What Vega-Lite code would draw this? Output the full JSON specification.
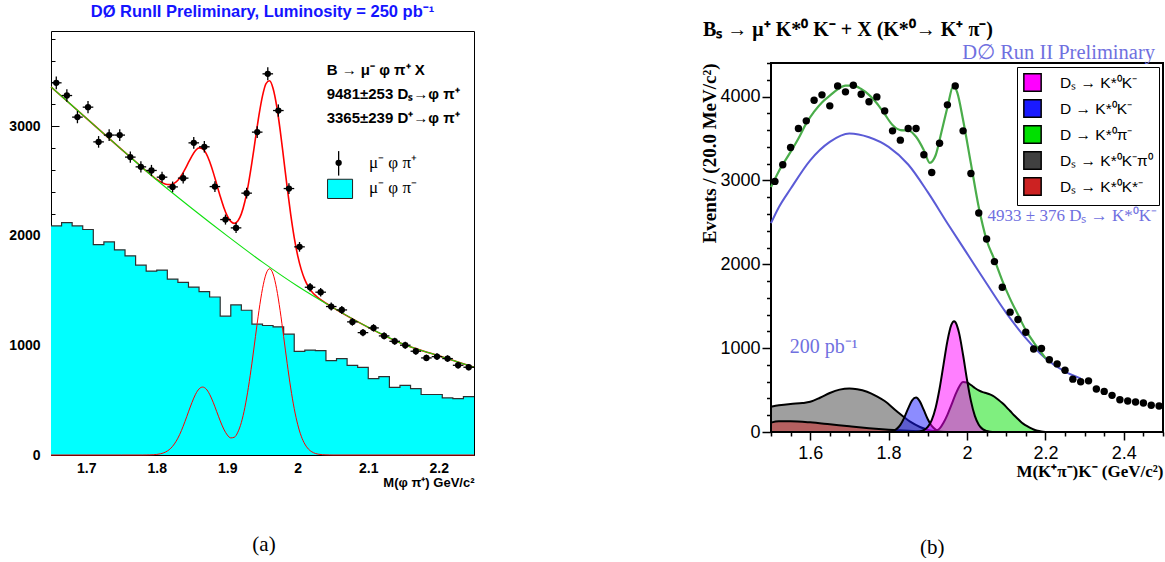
{
"$schema": "https://vega.github.io/schema/vega-lite/v6.json",
"background": "white",
"padding": {"left": 8, "top": 3, "right": 0, "bottom": 0},
"config": {"view": {"stroke": null}, "axis": {"grid": false, "domain": false, "tickColor": "black", "labelColor": "black", "titleColor": "black", "labelOverlap": false, "tickCount": 100}},
"resolve": {"scale": {"fill": "independent"}, "legend": {"fill": "independent"}},
"datasets": {
"one": [{}],
"leftHist": [
{"lo":1.650,"h":2091},{"lo":1.665,"h":2121},{"lo":1.680,"h":2091},{"lo":1.695,"h":2058},{"lo":1.710,"h":1921},{"lo":1.725,"h":1945},{"lo":1.740,"h":1873},{"lo":1.755,"h":1818},{"lo":1.770,"h":1733},{"lo":1.785,"h":1679},{"lo":1.800,"h":1688},{"lo":1.815,"h":1606},{"lo":1.830,"h":1576},{"lo":1.845,"h":1533},{"lo":1.860,"h":1491},{"lo":1.875,"h":1442},{"lo":1.890,"h":1267},{"lo":1.905,"h":1370},{"lo":1.920,"h":1321},{"lo":1.935,"h":1194},{"lo":1.950,"h":1182},{"lo":1.965,"h":1170},{"lo":1.980,"h":1103},{"lo":1.995,"h":945},{"lo":2.010,"h":958},{"lo":2.025,"h":952},{"lo":2.040,"h":861},{"lo":2.055,"h":879},{"lo":2.070,"h":818},{"lo":2.085,"h":800},{"lo":2.100,"h":697},{"lo":2.115,"h":715},{"lo":2.130,"h":618},{"lo":2.145,"h":636},{"lo":2.160,"h":606},{"lo":2.175,"h":552},{"lo":2.190,"h":552},{"lo":2.205,"h":521},{"lo":2.220,"h":515},{"lo":2.235,"h":533},{"lo":2.250,"h":533}],
"leftPts": [
{"m":1.6575,"lo":1.650,"hi":1.665,"n":3397,"e":58},{"m":1.6725,"lo":1.665,"hi":1.680,"n":3281,"e":57},{"m":1.6875,"lo":1.680,"hi":1.695,"n":3084,"e":56},{"m":1.7025,"lo":1.695,"hi":1.710,"n":3175,"e":56},{"m":1.7175,"lo":1.710,"hi":1.725,"n":2858,"e":53},{"m":1.7325,"lo":1.725,"hi":1.740,"n":2920,"e":54},{"m":1.7475,"lo":1.740,"hi":1.755,"n":2920,"e":54},{"m":1.7625,"lo":1.755,"hi":1.770,"n":2719,"e":52},{"m":1.7775,"lo":1.770,"hi":1.785,"n":2630,"e":51},{"m":1.7925,"lo":1.785,"hi":1.800,"n":2597,"e":51},{"m":1.8075,"lo":1.800,"hi":1.815,"n":2536,"e":50},{"m":1.8225,"lo":1.815,"hi":1.830,"n":2447,"e":49},{"m":1.8375,"lo":1.830,"hi":1.845,"n":2527,"e":50},{"m":1.8525,"lo":1.845,"hi":1.860,"n":2849,"e":53},{"m":1.8675,"lo":1.860,"hi":1.875,"n":2813,"e":53},{"m":1.8825,"lo":1.875,"hi":1.890,"n":2450,"e":49},{"m":1.8975,"lo":1.890,"hi":1.905,"n":2149,"e":46},{"m":1.9125,"lo":1.905,"hi":1.920,"n":2073,"e":46},{"m":1.9275,"lo":1.920,"hi":1.935,"n":2390,"e":49},{"m":1.9425,"lo":1.935,"hi":1.950,"n":2947,"e":54},{"m":1.9575,"lo":1.950,"hi":1.965,"n":3479,"e":59},{"m":1.9725,"lo":1.965,"hi":1.980,"n":3144,"e":56},{"m":1.9875,"lo":1.980,"hi":1.995,"n":2432,"e":49},{"m":2.0025,"lo":1.995,"hi":2.010,"n":1900,"e":44},{"m":2.0175,"lo":2.010,"hi":2.025,"n":1531,"e":39},{"m":2.0325,"lo":2.025,"hi":2.040,"n":1486,"e":39},{"m":2.0475,"lo":2.040,"hi":2.055,"n":1355,"e":37},{"m":2.0625,"lo":2.055,"hi":2.070,"n":1324,"e":36},{"m":2.0775,"lo":2.070,"hi":2.085,"n":1215,"e":35},{"m":2.0925,"lo":2.085,"hi":2.100,"n":1117,"e":33},{"m":2.1075,"lo":2.100,"hi":2.115,"n":1160,"e":34},{"m":2.1225,"lo":2.115,"hi":2.130,"n":1087,"e":33},{"m":2.1375,"lo":2.130,"hi":2.145,"n":1038,"e":32},{"m":2.1525,"lo":2.145,"hi":2.160,"n":1002,"e":32},{"m":2.1675,"lo":2.160,"hi":2.175,"n":947,"e":31},{"m":2.1825,"lo":2.175,"hi":2.190,"n":886,"e":30},{"m":2.1975,"lo":2.190,"hi":2.205,"n":898,"e":30},{"m":2.2125,"lo":2.205,"hi":2.220,"n":880,"e":30},{"m":2.2275,"lo":2.220,"hi":2.235,"n":819,"e":29},{"m":2.2425,"lo":2.235,"hi":2.250,"n":801,"e":28}],
"leftBg": [
{"x":1.65,"v":3360},{"x":1.70,"v":3075},{"x":1.75,"v":2790},{"x":1.80,"v":2510},{"x":1.85,"v":2250},{"x":1.90,"v":2000},{"x":1.95,"v":1760},{"x":2.00,"v":1540},{"x":2.05,"v":1345},{"x":2.10,"v":1165},{"x":2.15,"v":1010},{"x":2.20,"v":905},{"x":2.25,"v":800}],
"leftFit": [
{"x":1.65,"tot":3360,"sig":0},{"x":1.70,"tot":3075,"sig":0},{"x":1.75,"tot":2790,"sig":0},{"x":1.78,"tot":2622,"sig":0},{"x":1.785,"tot":2594,"sig":0.4},{"x":1.79,"tot":2567,"sig":1},{"x":1.795,"tot":2540,"sig":2.4},{"x":1.80,"tot":2515,"sig":5.2},{"x":1.805,"tot":2495,"sig":10.5},{"x":1.81,"tot":2478,"sig":20},{"x":1.815,"tot":2469,"sig":36.5},{"x":1.82,"tot":2468,"sig":62},{"x":1.825,"tot":2481,"sig":101},{"x":1.83,"tot":2508,"sig":154},{"x":1.835,"tot":2551,"sig":223},{"x":1.84,"tot":2607,"sig":305},{"x":1.845,"tot":2670,"sig":394},{"x":1.85,"tot":2731,"sig":480},{"x":1.855,"tot":2779,"sig":554},{"x":1.86,"tot":2803,"sig":603},{"x":1.865,"tot":2795,"sig":620},{"x":1.87,"tot":2753,"sig":603},{"x":1.875,"tot":2679,"sig":554},{"x":1.88,"tot":2582,"sig":482},{"x":1.885,"tot":2472,"sig":397},{"x":1.89,"tot":2362,"sig":312},{"x":1.895,"tot":2262,"sig":237},{"x":1.90,"tot":2183,"sig":183},{"x":1.905,"tot":2132,"sig":156},{"x":1.91,"tot":2114,"sig":162},{"x":1.915,"tot":2136,"sig":208},{"x":1.92,"tot":2201,"sig":297},{"x":1.925,"tot":2314,"sig":434},{"x":1.93,"tot":2473,"sig":617},{"x":1.935,"tot":2670,"sig":838},{"x":1.94,"tot":2889,"sig":1081},{"x":1.945,"tot":3102,"sig":1318},{"x":1.95,"tot":3278,"sig":1518},{"x":1.955,"tot":3390,"sig":1652},{"x":1.96,"tot":3416,"sig":1700},{"x":1.965,"tot":3346,"sig":1652},{"x":1.97,"tot":3190,"sig":1518},{"x":1.975,"tot":2968,"sig":1318},{"x":1.98,"tot":2708,"sig":1080},{"x":1.985,"tot":2442,"sig":836},{"x":1.99,"tot":2196,"sig":612},{"x":1.995,"tot":1985,"sig":423},{"x":2.00,"tot":1817,"sig":277},{"x":2.005,"tot":1692,"sig":171},{"x":2.01,"tot":1601,"sig":100},{"x":2.015,"tot":1537,"sig":55},{"x":2.02,"tot":1491,"sig":29},{"x":2.025,"tot":1457,"sig":14},{"x":2.03,"tot":1430,"sig":6.6},{"x":2.035,"tot":1406,"sig":2.9},{"x":2.04,"tot":1385,"sig":1.2},{"x":2.045,"tot":1365,"sig":0.5},{"x":2.05,"tot":1345,"sig":0},{"x":2.10,"tot":1165,"sig":0},{"x":2.15,"tot":1010,"sig":0},{"x":2.20,"tot":905,"sig":0},{"x":2.25,"tot":800,"sig":0}],
"rightPts": [
{"x":1.51,"n":2988},{"x":1.53,"n":3187},{"x":1.55,"n":3393},{"x":1.57,"n":3619},{"x":1.59,"n":3710},{"x":1.61,"n":3956},{"x":1.63,"n":4020},{"x":1.65,"n":3889},{"x":1.67,"n":4127},{"x":1.69,"n":4056},{"x":1.71,"n":4135},{"x":1.73,"n":4028},{"x":1.75,"n":3937},{"x":1.77,"n":3996},{"x":1.79,"n":3829},{"x":1.81,"n":3591},{"x":1.83,"n":3480},{"x":1.85,"n":3619},{"x":1.87,"n":3619},{"x":1.89,"n":3306},{"x":1.91,"n":3095},{"x":1.93,"n":3444},{"x":1.95,"n":3901},{"x":1.97,"n":4127},{"x":1.99,"n":3591},{"x":2.01,"n":3083},{"x":2.03,"n":2611},{"x":2.05,"n":2301},{"x":2.07,"n":2032},{"x":2.09,"n":1726},{"x":2.11,"n":1429},{"x":2.13,"n":1341},{"x":2.15,"n":1190},{"x":2.17,"n":990},{"x":2.19,"n":995},{"x":2.21,"n":862},{"x":2.23,"n":812},{"x":2.25,"n":736},{"x":2.27,"n":630},{"x":2.29,"n":600},{"x":2.31,"n":610},{"x":2.33,"n":512},{"x":2.35,"n":484},{"x":2.37,"n":437},{"x":2.39,"n":385},{"x":2.41,"n":369},{"x":2.43,"n":357},{"x":2.45,"n":345},{"x":2.47,"n":318},{"x":2.49,"n":310}],
"rightBg": [
{"x":1.50,"v":2490},{"x":1.52,"v":2680},{"x":1.55,"v":2900},{"x":1.60,"v":3240},{"x":1.65,"v":3460},{"x":1.70,"v":3560},{"x":1.75,"v":3515},{"x":1.80,"v":3400},{"x":1.85,"v":3190},{"x":1.90,"v":2860},{"x":1.95,"v":2490},{"x":2.00,"v":2130},{"x":2.05,"v":1770},{"x":2.10,"v":1420},{"x":2.15,"v":1120},{"x":2.20,"v":880},{"x":2.25,"v":720},{"x":2.29,"v":640}],
"rightTot": [
{"x":1.50,"v":2920},{"x":1.52,"v":3110},{"x":1.55,"v":3340},{"x":1.57,"v":3500},{"x":1.59,"v":3680},{"x":1.61,"v":3820},{"x":1.63,"v":3930},{"x":1.65,"v":4010},{"x":1.67,"v":4085},{"x":1.69,"v":4130},{"x":1.71,"v":4130},{"x":1.73,"v":4090},{"x":1.75,"v":4020},{"x":1.77,"v":3920},{"x":1.79,"v":3790},{"x":1.81,"v":3660},{"x":1.83,"v":3600},{"x":1.85,"v":3595},{"x":1.87,"v":3520},{"x":1.89,"v":3360},{"x":1.905,"v":3210},{"x":1.92,"v":3300},{"x":1.935,"v":3580},{"x":1.95,"v":3870},{"x":1.965,"v":4125},{"x":1.975,"v":4050},{"x":1.99,"v":3720},{"x":2.01,"v":3200},{"x":2.03,"v":2680},{"x":2.05,"v":2290},{"x":2.07,"v":2055},{"x":2.09,"v":1805},{"x":2.11,"v":1587},{"x":2.13,"v":1400},{"x":2.15,"v":1215},{"x":2.17,"v":1070},{"x":2.19,"v":945},{"x":2.20,"v":880}],
"rightComp": [
{"c":"k","x":1.50,"v":300},{"c":"k","x":1.52,"v":318},{"c":"k","x":1.55,"v":335},{"c":"k","x":1.58,"v":345},{"c":"k","x":1.60,"v":360},{"c":"k","x":1.625,"v":408},{"c":"k","x":1.65,"v":465},{"c":"k","x":1.675,"v":505},{"c":"k","x":1.70,"v":519},{"c":"k","x":1.72,"v":510},{"c":"k","x":1.745,"v":480},{"c":"k","x":1.77,"v":425},{"c":"k","x":1.79,"v":369},{"c":"k","x":1.82,"v":250},{"c":"k","x":1.855,"v":123},{"c":"k","x":1.88,"v":60},{"c":"k","x":1.90,"v":25},{"c":"k","x":1.93,"v":0},
{"c":"r","x":1.50,"v":112},{"c":"r","x":1.52,"v":128},{"c":"r","x":1.55,"v":128},{"c":"r","x":1.60,"v":115},{"c":"r","x":1.65,"v":92},{"c":"r","x":1.70,"v":68},{"c":"r","x":1.75,"v":46},{"c":"r","x":1.80,"v":28},{"c":"r","x":1.85,"v":14},{"c":"r","x":1.90,"v":4},{"c":"r","x":1.93,"v":0},
{"c":"b","x":1.78,"v":0},{"c":"b","x":1.79,"v":1},{"c":"b","x":1.80,"v":3},{"c":"b","x":1.81,"v":11},{"c":"b","x":1.82,"v":34},{"c":"b","x":1.83,"v":85},{"c":"b","x":1.84,"v":172},{"c":"b","x":1.85,"v":282},{"c":"b","x":1.86,"v":377},{"c":"b","x":1.87,"v":410},{"c":"b","x":1.88,"v":362},{"c":"b","x":1.89,"v":260},{"c":"b","x":1.90,"v":152},{"c":"b","x":1.91,"v":72},{"c":"b","x":1.92,"v":28},{"c":"b","x":1.93,"v":9},{"c":"b","x":1.94,"v":2},{"c":"b","x":1.95,"v":0},
{"c":"g","x":1.90,"v":0},{"c":"g","x":1.92,"v":15},{"c":"g","x":1.93,"v":40},{"c":"g","x":1.94,"v":110},{"c":"g","x":1.95,"v":205},{"c":"g","x":1.96,"v":320},{"c":"g","x":1.97,"v":440},{"c":"g","x":1.98,"v":540},{"c":"g","x":1.99,"v":595},{"c":"g","x":2.00,"v":590},{"c":"g","x":2.01,"v":560},{"c":"g","x":2.02,"v":525},{"c":"g","x":2.03,"v":495},{"c":"g","x":2.04,"v":475},{"c":"g","x":2.05,"v":462},{"c":"g","x":2.06,"v":445},{"c":"g","x":2.07,"v":420},{"c":"g","x":2.08,"v":385},{"c":"g","x":2.09,"v":345},{"c":"g","x":2.10,"v":300},{"c":"g","x":2.11,"v":250},{"c":"g","x":2.12,"v":200},{"c":"g","x":2.13,"v":155},{"c":"g","x":2.14,"v":110},{"c":"g","x":2.15,"v":78},{"c":"g","x":2.16,"v":52},{"c":"g","x":2.17,"v":30},{"c":"g","x":2.18,"v":14},{"c":"g","x":2.19,"v":5},{"c":"g","x":2.20,"v":0},
{"c":"m","x":1.87,"v":0},{"c":"m","x":1.88,"v":7},{"c":"m","x":1.89,"v":23},{"c":"m","x":1.90,"v":61},{"c":"m","x":1.91,"v":142},{"c":"m","x":1.92,"v":290},{"c":"m","x":1.93,"v":516},{"c":"m","x":1.94,"v":801},{"c":"m","x":1.95,"v":1083},{"c":"m","x":1.96,"v":1276},{"c":"m","x":1.967,"v":1320},{"c":"m","x":1.97,"v":1312},{"c":"m","x":1.98,"v":1176},{"c":"m","x":1.99,"v":918},{"c":"m","x":2.00,"v":625},{"c":"m","x":2.01,"v":371},{"c":"m","x":2.02,"v":192},{"c":"m","x":2.03,"v":87},{"c":"m","x":2.04,"v":34},{"c":"m","x":2.05,"v":12},{"c":"m","x":2.06,"v":3.5},{"c":"m","x":2.07,"v":0}]
},
"spacing": 221,
"hconcat": [
{
"title": {"text": "(a)", "orient": "bottom", "anchor": "middle", "frame": "bounds", "font": "Liberation Serif", "fontSize": 21, "fontWeight": "normal", "color": "black", "offset": 44, "dx": 21},
"vconcat": [
{
"width": 423, "height": 424,
"view": {"stroke": "black", "strokeWidth": 1},
"title": {"text": "DØ RunII  Preliminary, Luminosity = 250 pb⁻¹", "font": "Liberation Sans", "fontWeight": "bold", "fontSize": 16.5, "color": "#1414ff", "anchor": "middle", "frame": "group", "offset": 11},
"layer": [
{"data": {"name": "leftHist"},
 "mark": {"type": "area", "interpolate": "step-after", "fill": "#00ffff", "opacity": 1, "line": {"color": "#303030", "strokeWidth": 1.2}},
 "encoding": {
  "x": {"field": "lo", "type": "quantitative", "scale": {"domain": [1.65, 2.25], "nice": false, "zero": false},
        "axis": {"values": [1.65,1.675,1.7,1.725,1.75,1.775,1.8,1.825,1.85,1.875,1.9,1.925,1.95,1.975,2,2.025,2.05,2.075,2.1,2.125,2.15,2.175,2.2,2.225,2.25], "tickCount": 100,
                 "format": "~g", "labelExpr": "abs(datum.value*10-round(datum.value*10))<0.001 ? datum.label : ''", "labelOverlap": false,
                 "tickSize": {"condition": {"test": "abs(datum.value*10-round(datum.value*10))<0.001", "value": -8}, "value": -4},
                 "labelFont": "Liberation Sans", "labelFontWeight": "bold", "labelFontSize": 14, "labelPadding": 14, "labelFlush": false,
                 "title": "M(φ π⁺) GeV/c²", "titleFont": "Liberation Sans", "titleFontWeight": "bold", "titleFontSize": 13, "titleAnchor": "end", "titlePadding": -3}},
  "y": {"field": "h", "type": "quantitative", "scale": {"domain": [0, 3870], "nice": false},
        "axis": {"values": [0,200,400,600,800,1000,1200,1400,1600,1800,2000,2200,2400,2600,2800,3000,3200,3400,3600,3800], "tickCount": 100,
                 "format": "d", "labelExpr": "datum.value % 1000 === 0 ? datum.label : ''", "labelOverlap": false,
                 "tickSize": {"condition": {"test": "datum.value % 1000 === 0", "value": -8}, "value": -4},
                 "labelFont": "Liberation Sans", "labelFontWeight": "bold", "labelFontSize": 14, "labelPadding": 19, "title": null}}
 }},
{"data": {"name": "leftFit"}, "mark": {"type": "line", "interpolate": "monotone", "color": "#ff0000", "strokeWidth": 1},
 "encoding": {"x": {"field": "x", "type": "quantitative"}, "y": {"field": "sig", "type": "quantitative"}}},
{"data": {"name": "leftFit"}, "mark": {"type": "line", "interpolate": "monotone", "color": "#ff0000", "strokeWidth": 1.6},
 "encoding": {"x": {"field": "x", "type": "quantitative"}, "y": {"field": "tot", "type": "quantitative"}}},
{"data": {"name": "leftBg"}, "mark": {"type": "line", "interpolate": "monotone", "color": "#10e010", "strokeWidth": 1.1},
 "encoding": {"x": {"field": "x", "type": "quantitative"}, "y": {"field": "v", "type": "quantitative"}}},
{"data": {"name": "leftPts"}, "mark": {"type": "errorbar", "color": "black", "thickness": 1.3},
 "encoding": {"x": {"field": "m", "type": "quantitative"}, "y": {"field": "n", "type": "quantitative"}, "yError": {"field": "e"}}},
{"data": {"name": "leftPts"}, "mark": {"type": "rule", "color": "black", "strokeWidth": 1.3},
 "encoding": {"x": {"field": "lo", "type": "quantitative"}, "x2": {"field": "hi"}, "y": {"field": "n", "type": "quantitative"}}},
{"data": {"name": "leftPts"}, "mark": {"type": "point", "filled": true, "color": "black", "size": 40, "opacity": 1},
 "encoding": {"x": {"field": "m", "type": "quantitative"}, "y": {"field": "n", "type": "quantitative"}}},
{"data": {"name": "one"}, "mark": {"type": "text", "align": "left", "baseline": "middle", "font": "Liberation Sans", "fontWeight": "bold", "fontSize": 15, "lineHeight": 24, "color": "black",
          "text": ["B → μ⁻ φ π⁺ X", "9481±253  Dₛ→φ π⁺", "3365±239  D⁺→φ π⁺"]},
 "encoding": {"x": {"datum": 2.041}, "y": {"datum": 3516}}},
{"data": {"name": "one"}, "mark": {"type": "point", "shape": "M0,-1L0,1", "size": 600, "stroke": "black", "strokeWidth": 1.3, "filled": false, "opacity": 1},
 "encoding": {"x": {"datum": 2.058}, "y": {"datum": 2662}}},
{"data": {"name": "one"}, "mark": {"type": "point", "filled": true, "color": "black", "size": 40, "opacity": 1},
 "encoding": {"x": {"datum": 2.058}, "y": {"datum": 2667}}},
{"data": {"name": "one"}, "mark": {"type": "point", "shape": "M-1.3,-1L1.3,-1L1.3,1L-1.3,1Z", "size": 370, "fill": "#00ffff", "stroke": "#222222", "strokeWidth": 1, "filled": true, "opacity": 1},
 "encoding": {"x": {"datum": 2.060}, "y": {"datum": 2429}}},
{"data": {"name": "one"}, "mark": {"type": "text", "align": "left", "baseline": "middle", "font": "Liberation Serif", "fontSize": 17, "color": "black", "text": "μ⁻ φ π⁺"},
 "encoding": {"x": {"datum": 2.101}, "y": {"datum": 2667}}},
{"data": {"name": "one"}, "mark": {"type": "text", "align": "left", "baseline": "middle", "font": "Liberation Serif", "fontSize": 17, "color": "black", "text": "μ⁻ φ π⁻"},
 "encoding": {"x": {"datum": 2.101}, "y": {"datum": 2438}}}
]
}
]
},
{
"title": {"text": "(b)", "orient": "bottom", "anchor": "middle", "frame": "bounds", "font": "Liberation Serif", "fontSize": 21, "fontWeight": "normal", "color": "black", "offset": 57},
"spacing": 2,
"resolve": {"scale": {"fill": "independent"}, "legend": {"fill": "independent"}},
"vconcat": [
{
"width": 392, "height": 1,
"title": {"text": "Bₛ → μ⁺  K*⁰ K⁻ + X  (K*⁰→ K⁺ π⁻)", "font": "Liberation Serif", "fontWeight": "bold", "fontSize": 20, "color": "black", "anchor": "start", "frame": "group", "offset": -8, "dx": -68, "dy": 3},
"data": {"name": "one"},
"mark": {"type": "point", "opacity": 0},
"encoding": {}
},
{
"width": 392, "height": 369,
"view": {"stroke": "black", "strokeWidth": 2},
"layer": [
{"data": {"name": "rightComp"},
 "mark": {"type": "area", "interpolate": "monotone", "stroke": "black", "strokeWidth": 2, "fillOpacity": 0.5},
 "encoding": {
  "x": {"field": "x", "type": "quantitative", "scale": {"domain": [1.5, 2.5], "nice": false, "zero": false},
        "axis": {"values": [1.5,1.55,1.6,1.65,1.7,1.75,1.8,1.85,1.9,1.95,2,2.05,2.1,2.15,2.2,2.25,2.3,2.35,2.4,2.45,2.5], "tickCount": 100,
                 "format": "~g", "labelExpr": "abs(datum.value*5-round(datum.value*5))<0.001 ? datum.label : ''", "labelOverlap": false,
                 "tickSize": {"condition": {"test": "abs(datum.value*5-round(datum.value*5))<0.001", "value": 8}, "value": 4},
                 "tickWidth": 1.5, "labelFont": "Liberation Sans", "labelFontSize": 18, "labelPadding": 4, "labelFlush": false,
                 "title": "M(K⁺π⁻)K⁻  (GeV/c²)", "titleFont": "Liberation Serif", "titleFontWeight": "bold", "titleFontSize": 17, "titleAnchor": "end", "titlePadding": 1}},
  "y": {"field": "v", "type": "quantitative", "stack": null, "scale": {"domain": [0, 4400], "nice": false},
        "axis": {"values": [0,200,400,600,800,1000,1200,1400,1600,1800,2000,2200,2400,2600,2800,3000,3200,3400,3600,3800,4000,4200,4400], "tickCount": 100,
                 "format": "d", "labelExpr": "datum.value % 1000 === 0 ? datum.label : ''", "labelOverlap": false,
                 "tickSize": {"condition": {"test": "datum.value % 1000 === 0", "value": 9}, "value": 4.5},
                 "tickWidth": 1.5, "labelFont": "Liberation Sans", "labelFontSize": 18, "labelPadding": 2,
                 "title": "Events / (20.0 MeV/c²)", "titleFont": "Liberation Serif", "titleFontWeight": "bold", "titleFontSize": 19, "titleAnchor": "end", "titlePadding": 0}},
  "fill": {"field": "c", "type": "nominal",
           "scale": {"domain": ["m","b","g","k","r"], "range": ["#ff00ff","#1a1aff","#00e000","#404040","#cc2222"]},
           "legend": {"title": null, "orient": "top-right", "offset": 4, "padding": 6, "rowPadding": 1,
                      "strokeColor": "black", "fillColor": "white",
                      "symbolType": "square", "symbolSize": 300, "symbolStrokeColor": "black",
                      "labelFont": "Liberation Sans", "labelFontSize": 15.5, "labelOffset": 18,
                      "labelExpr": "datum.value=='m' ? 'Dₛ → K*⁰K⁻' : datum.value=='b' ? 'D → K*⁰K⁻' : datum.value=='g' ? 'D → K*⁰π⁻' : datum.value=='k' ? 'Dₛ → K*⁰K⁻π⁰' : 'Dₛ → K*⁰K*⁻'"}}
 }},
{"data": {"name": "rightBg"}, "mark": {"type": "line", "interpolate": "monotone", "color": "#5b5bd6", "strokeWidth": 2},
 "encoding": {"x": {"field": "x", "type": "quantitative"}, "y": {"field": "v", "type": "quantitative"}}},
{"data": {"name": "rightTot"}, "mark": {"type": "line", "interpolate": "monotone", "color": "#4aad4a", "strokeWidth": 2.2},
 "encoding": {"x": {"field": "x", "type": "quantitative"}, "y": {"field": "v", "type": "quantitative"}}},
{"data": {"name": "rightPts"}, "mark": {"type": "circle", "color": "black", "size": 55, "opacity": 1},
 "encoding": {"x": {"field": "x", "type": "quantitative"}, "y": {"field": "n", "type": "quantitative"}}},
{"data": {"name": "one"}, "mark": {"type": "text", "align": "right", "baseline": "alphabetic", "font": "Liberation Serif", "fontSize": 20.5, "color": "#7070e0", "dx": -8, "dy": -4, "text": "D∅ Run II  Preliminary"},
 "encoding": {"x": {"datum": 2.5}, "y": {"datum": 4400}}},
{"data": {"name": "one"}, "mark": {"type": "text", "align": "right", "baseline": "middle", "font": "Liberation Serif", "fontSize": 17, "color": "#7070e0", "dx": -6, "text": "4933 ± 376  Dₛ → K*⁰K⁻"},
 "encoding": {"x": {"datum": 2.5}, "y": {"datum": 2571}}},
{"data": {"name": "one"}, "mark": {"type": "text", "align": "left", "baseline": "middle", "font": "Liberation Serif", "fontSize": 20, "color": "#7070e0", "text": "200 pb⁻¹"},
 "encoding": {"x": {"datum": 1.548}, "y": {"datum": 1010}}}
]
}
]
}
]
}
